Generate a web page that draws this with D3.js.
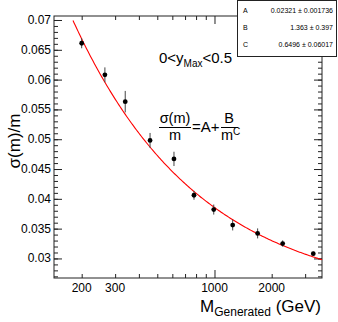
<!DOCTYPE html>
<html>
<head>
<meta charset="utf-8">
<script src="https://cdn.jsdelivr.net/npm/d3@7"></script>
<style>
  body { margin: 0; background: #fff; }
  svg { display: block; font-family: "Liberation Sans", Arial, sans-serif; }
</style>
</head>
<body>
<svg id="chart" width="338" height="322"></svg>
<script>
// values
const masses = [200, 265, 339, 458, 612, 780, 991, 1247, 1687, 2285, 3311];
const sigmaOverM = [0.0661, 0.0608, 0.0563, 0.0498, 0.0467, 0.0406, 0.0382, 0.0356, 0.0342, 0.0325, 0.0308];
const errors = [0.00084, 0.00125, 0.0018, 0.00125, 0.0012, 0.00075, 0.00084, 0.0009, 0.00084, 0.00053, 0.00035];

// fit parameters from the stats box
const fitNames = ['A', 'B', 'C'];
const fitValues = ['0.02321', '1.363', '0.6496'];
const fitErrors = ['0.001736', '0.397', '0.06017'];
const fitA = 0.02321, fitB = 1.363, fitC = 0.6496;
const fitRange = [180, 3680];

const xMinor = [200, 300, 400, 500, 600, 700, 800, 900, 2000, 3000];
const xMajor = [1000];
const xLabels = [200, 300, 1000, 2000];
const yMajor = d3.range(0.03, 0.0701, 0.005).map(v => +v.toFixed(3));
const yMinor = d3.range(0.027, 0.0701, 0.001).map(v => +v.toFixed(3));

const frame = {left: 54, right: 322, top: 16, bottom: 278};

const svg = d3.select('#chart');

const x = d3.scaleLog()
    .domain([143, 3680])
    .range([frame.left, frame.right]);

const y = d3.scaleLinear()
    .domain([0.02672, 0.07067])
    .range([frame.bottom, frame.top]);

// frame
svg.append('rect')
    .attr('x', frame.left).attr('y', frame.top)
    .attr('width', frame.right - frame.left)
    .attr('height', frame.bottom - frame.top)
    .attr('fill', 'none')
    .attr('stroke', '#222');

const axes = [
    [() => d3.axisBottom(x), `translate(0,${frame.bottom})`, xMinor, xMajor],
    [() => d3.axisTop(x), `translate(0,${frame.top})`, xMinor, xMajor],
    [() => d3.axisLeft(y), `translate(${frame.left},0)`, yMinor, yMajor],
    [() => d3.axisRight(y), `translate(${frame.right},0)`, yMinor, yMajor]
];

axes.forEach(([makeAxis, tr, minor, major]) => {
    svg.append('g').attr('transform', tr)
        .call(makeAxis().tickValues(minor).tickSize(-4).tickFormat(''));
    svg.append('g').attr('transform', tr)
        .call(makeAxis().tickValues(major).tickSize(-8).tickFormat(''));
});

svg.selectAll('.domain').remove();
svg.selectAll('.tick line').attr('stroke', '#222');

// tick labels
svg.append('g')
    .selectAll('text')
    .data(xLabels)
    .join('text')
    .attr('x', d => x(d))
    .attr('y', 292)
    .attr('text-anchor', 'middle')
    .attr('font-size', 12)
    .text(d => d);

svg.append('g')
    .selectAll('text')
    .data(yMajor)
    .join('text')
    .attr('x', 51)
    .attr('y', d => y(d) + 4)
    .attr('text-anchor', 'end')
    .attr('font-size', 12)
    .text(d => String(d));

// axis titles
const xTitle = svg.append('text')
    .attr('x', 321)
    .attr('y', 312)
    .attr('text-anchor', 'end')
    .attr('font-size', 17);
xTitle.append('tspan').text('M');
xTitle.append('tspan').attr('font-size', 12).attr('dy', 4).text('Generated');
xTitle.append('tspan').attr('dy', -4).text(' (GeV)');

svg.append('text')
    .attr('transform', 'translate(20,141) rotate(-90)')
    .attr('text-anchor', 'middle')
    .attr('font-size', 17)
    .text('σ(m)/m');

// fit curve
const curveMasses = d3.range(0, 201).map(i => fitRange[0] * Math.pow(fitRange[1] / fitRange[0], i / 200));
svg.append('path')
    .datum(curveMasses)
    .attr('fill', 'none')
    .attr('stroke', '#f00')
    .attr('stroke-width', 1.1)
    .attr('d', d3.line()
        .x(m => x(m))
        .y(m => y(fitA + fitB / Math.pow(m, fitC))));

// data points with error bars
const points = masses.map((m, i) => ({m, v: sigmaOverM[i], e: errors[i]}));

svg.append('g')
    .selectAll('line')
    .data(points)
    .join('line')
    .attr('x1', d => x(d.m)).attr('x2', d => x(d.m))
    .attr('y1', d => y(d.v + d.e)).attr('y2', d => y(d.v - d.e))
    .attr('stroke', '#444')
    .attr('stroke-width', 1);

svg.append('g')
    .selectAll('circle')
    .data(points)
    .join('circle')
    .attr('cx', d => x(d.m))
    .attr('cy', d => y(d.v))
    .attr('r', 2.4)
    .attr('fill', '#000');

// annotations
const region = svg.append('text')
    .attr('x', 159)
    .attr('y', 63)
    .attr('font-size', 15);
region.append('tspan').text('0<y');
region.append('tspan').attr('font-size', 10).attr('dy', 4).text('Max');
region.append('tspan').attr('dy', -4).text('<0.5');

const formula = svg.append('g').attr('font-size', 14.5);
formula.append('text').attr('x', 175).attr('y', 122.5).attr('text-anchor', 'middle').text('σ(m)');
formula.append('line').attr('x1', 159).attr('x2', 191).attr('y1', 127.5).attr('y2', 127.5)
    .attr('stroke', '#000').attr('stroke-width', 1);
formula.append('text').attr('x', 175).attr('y', 139.5).attr('text-anchor', 'middle').text('m');
formula.append('text').attr('x', 192).attr('y', 132).attr('font-size', 15).text('=A+');
formula.append('text').attr('x', 229).attr('y', 122.5).attr('text-anchor', 'middle').text('B');
formula.append('line').attr('x1', 221).attr('x2', 238).attr('y1', 127.5).attr('y2', 127.5)
    .attr('stroke', '#000').attr('stroke-width', 1);
const denom = formula.append('text').attr('x', 221).attr('y', 139.5);
denom.append('tspan').text('m');
denom.append('tspan').attr('font-size', 10).attr('dy', -5).text('C');

// stats box
const box = svg.append('g');
box.append('rect')
    .attr('x', 237.5).attr('y', 0.5)
    .attr('width', 99).attr('height', 56)
    .attr('fill', '#fff')
    .attr('stroke', '#222');

const rows = box.selectAll('g')
    .data(fitNames)
    .join('g')
    .attr('transform', (d, i) => `translate(0,${13 + i * 17})`)
    .attr('font-size', 7);
rows.append('text').attr('x', 243).text(d => d);
rows.append('text').attr('x', 333).attr('text-anchor', 'end')
    .text((d, i) => `${fitValues[i]} ± ${fitErrors[i]}`);
</script>
</body>
</html>
